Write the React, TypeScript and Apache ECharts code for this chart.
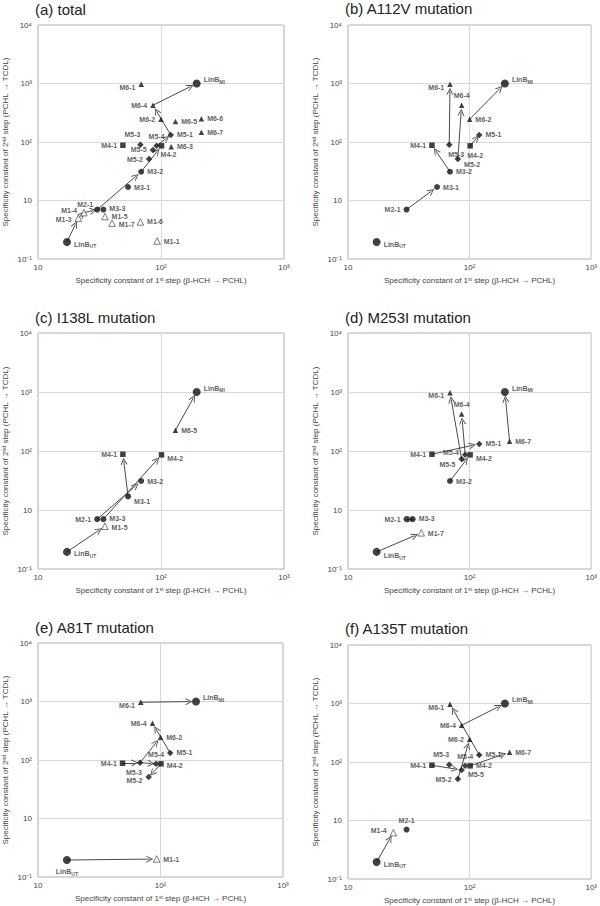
import React, { useEffect, useRef } from "react";
import * as echarts from "echarts";

// ---------- data ----------
const pointNames = ["LinB_UT", "LinB_MI", "M1-1", "M1-3", "M1-4", "M1-5", "M1-6", "M1-7", "M2-1", "M3-1", "M3-2", "M3-3", "M4-1", "M4-2", "M5-1", "M5-2", "M5-3", "M5-4", "M5-5", "M6-1", "M6-2", "M6-3", "M6-4", "M6-5", "M6-6", "M6-7"];
// specificity constant of 1st step (beta-HCH -> PCHL)
const step1Values = [17.2, 195, 93, 21.3, 23.6, 35, 68, 40, 30.3, 54, 69, 34, 49, 101, 120, 80, 68, 92, 86, 69, 100, 121, 86, 131, 213, 213];
// specificity constant of 2nd step (PCHL -> TCDL)
const step2Values = [1.95, 1000, 2.03, 5.0, 6.2, 5.3, 4.3, 4.1, 7.0, 17, 31, 7.0, 88, 86, 132, 51, 90, 86, 73, 970, 245, 83, 425, 225, 250, 147];
const pointKinds = ["wt", "wt", "open", "open", "open", "open", "open", "open", "circle", "circle", "circle", "circle", "square", "square", "diamond", "diamond", "diamond", "diamond", "diamond", "triangle", "triangle", "triangle", "triangle", "triangle", "triangle", "triangle"];

const panelTitles = ["(a) total", "(b) A112V mutation", "(c) I138L mutation", "(d) M253I mutation", "(e) A81T mutation", "(f) A135T mutation"];

const membersA = pointNames;
const membersB = ["LinB_UT", "LinB_MI", "M2-1", "M3-1", "M3-2", "M4-1", "M4-2", "M5-1", "M5-2", "M5-3", "M6-1", "M6-2", "M6-4"];
const membersC = ["LinB_UT", "LinB_MI", "M1-5", "M2-1", "M3-1", "M3-2", "M3-3", "M4-1", "M4-2", "M6-5"];
const membersD = ["LinB_UT", "LinB_MI", "M1-7", "M2-1", "M3-2", "M3-3", "M4-1", "M4-2", "M5-1", "M5-4", "M5-5", "M6-1", "M6-4", "M6-7"];
const membersE = ["LinB_UT", "LinB_MI", "M1-1", "M4-1", "M4-2", "M5-1", "M5-2", "M5-3", "M5-4", "M6-1", "M6-2", "M6-4"];
const membersF = ["LinB_UT", "LinB_MI", "M1-4", "M2-1", "M4-1", "M4-2", "M5-1", "M5-2", "M5-3", "M5-4", "M5-5", "M6-1", "M6-2", "M6-4", "M6-7"];
const panelMembers = [membersA, membersB, membersC, membersD, membersE, membersF];

const arrowsA = [["LinB_UT", "M1-3"], ["M1-3", "M1-4"], ["M1-4", "M2-1"], ["M2-1", "M3-2"], ["M3-2", "M4-2"], ["M5-4", "M5-1"], ["M5-1", "M6-4"], ["M6-4", "LinB_MI"]];
const arrowsB = [["M2-1", "M3-1"], ["M3-2", "M4-1"], ["M5-3", "M6-1"], ["M5-2", "M6-4"], ["M4-2", "M5-1"], ["M6-2", "LinB_MI"]];
const arrowsC = [["LinB_UT", "M1-5"], ["M2-1", "M3-2"], ["M3-3", "M4-2"], ["M3-1", "M4-1"], ["M6-5", "LinB_MI"]];
const arrowsD = [["LinB_UT", "M1-7"], ["M2-1", "M3-3"], ["M4-1", "M5-1"], ["M3-2", "M4-2"], ["M5-5", "M6-1"], ["M5-4", "M6-4"], ["M6-7", "LinB_MI"]];
const arrowsE = [["LinB_UT", "M1-1"], ["M6-1", "LinB_MI"], ["M4-1", "M5-3"], ["M5-3", "M5-4"], ["M5-3", "M6-2"], ["M5-1", "M6-4"], ["M4-2", "M5-2"]];
const arrowsF = [["LinB_UT", "M1-4"], ["M4-1", "M5-5"], ["M5-2", "M6-2"], ["M4-2", "M6-7"], ["M5-1", "M6-1"], ["M6-4", "LinB_MI"]];
const panelArrows = [arrowsA, arrowsB, arrowsC, arrowsD, arrowsE, arrowsF];

const xTickValues = [10, 100, 1000];
const xTickTexts = ["10", "10²", "10³"];
const yTickValues = [1, 10, 100, 1000, 10000];
const yTickTexts = ["10⁻¹", "10", "10²", "10³", "10⁴"];

// ---------- layout / style ----------
const gridBoxes = [
  { left: 38, top: 25, width: 246, height: 234 },
  { left: 348, top: 25, width: 246, height: 234 },
  { left: 38, top: 333, width: 246, height: 236 },
  { left: 348, top: 333, width: 245, height: 236 },
  { left: 37, top: 643, width: 246, height: 234 },
  { left: 348, top: 645, width: 245, height: 234 },
];
const titlePositions = [[35, 9], [345, 8], [35, 317], [345, 317], [35, 627], [345, 628]];

type LP = { p: string; o?: number[] };
const defaultLabel: Record<string, LP> = {
  "LinB_UT": { p: "right", o: [0, 2] },
  "LinB_MI": { p: "right", o: [0, -4] },
  "M1-1": { p: "right" }, "M1-3": { p: "left", o: [0, 1] }, "M1-4": { p: "left", o: [0, -2] },
  "M1-5": { p: "right", o: [0, 0] }, "M1-6": { p: "right" }, "M1-7": { p: "right", o: [0, 1] },
  "M2-1": { p: "left", o: [2, -5] }, "M3-1": { p: "right" }, "M3-2": { p: "right" }, "M3-3": { p: "right", o: [0, -1] },
  "M4-1": { p: "left" }, "M4-2": { p: "bottom", o: [7, -1] },
  "M5-1": { p: "right" }, "M5-2": { p: "left" }, "M5-3": { p: "top", o: [-8, 0] },
  "M5-4": { p: "top" }, "M5-5": { p: "left" },
  "M6-1": { p: "left", o: [0, 3] }, "M6-2": { p: "left" }, "M6-3": { p: "right" }, "M6-4": { p: "left" },
  "M6-5": { p: "right" }, "M6-6": { p: "right" }, "M6-7": { p: "right" },
};
const panelLabelOverrides: Record<string, LP>[] = [
  {},
  { "M2-1": { p: "left" }, "M5-3": { p: "bottom", o: [7, 0] }, "M5-2": { p: "right", o: [0, 5] }, "M4-2": { p: "bottom", o: [5, 0] }, "M6-4": { p: "top" }, "M6-2": { p: "right" } },
  { "M2-1": { p: "left" }, "M3-1": { p: "right", o: [0, 5] }, "M4-2": { p: "right", o: [0, 4] }, "M1-5": { p: "right", o: [0, 1] } },
  { "M2-1": { p: "left" }, "LinB_UT": { p: "right", o: [0, 4] }, "M5-4": { p: "left", o: [0, -2] }, "M5-5": { p: "left", o: [0, 5] }, "M6-4": { p: "top" }, "M4-2": { p: "right", o: [0, 4] } },
  { "LinB_UT": { p: "bottom" }, "M6-2": { p: "right" }, "M5-3": { p: "bottom", o: [-6, 0] }, "M4-2": { p: "right", o: [0, 2] }, "M5-2": { p: "left", o: [0, 3] } },
  { "M2-1": { p: "top" }, "M5-5": { p: "right", o: [0, 5] }, "M4-2": { p: "right" } },
];

const FONT = "Arial, 'Liberation Sans', sans-serif";
const chevron = "path://M5,0 L10,10 L8.6,10 L5,2.8 L1.4,10 L0,10 Z";

function tickText(v: number, values: number[], texts: string[]) {
  for (let i = 0; i < values.length; i++) {
    if (Math.abs(Math.log10(v) - Math.log10(values[i])) < 0.01) return texts[i];
  }
  return "";
}

function markerFor(kind: string) {
  switch (kind) {
    case "wt": return { symbol: "circle", symbolSize: 8, itemStyle: { color: "#111" } };
    case "open": return { symbol: "triangle", symbolSize: 6.5, itemStyle: { color: "#fff", borderColor: "#333", borderWidth: 0.8 } };
    case "circle": return { symbol: "circle", symbolSize: 6, itemStyle: { color: "#111" } };
    case "square": return { symbol: "rect", symbolSize: 5.5, itemStyle: { color: "#111" } };
    case "diamond": return { symbol: "diamond", symbolSize: 6.5, itemStyle: { color: "#111" } };
    default: return { symbol: "triangle", symbolSize: 5.5, itemStyle: { color: "#111" } };
  }
}

export default function App() {
  const ref = useRef<HTMLDivElement>(null);
  useEffect(() => {
    document.body.style.margin = "0";
    if (!ref.current) return;
    const chart = echarts.init(ref.current, undefined, { renderer: "svg" });
    const idx = (n: string) => pointNames.indexOf(n);

    const grids: any[] = [];
    const xAxes: any[] = [];
    const yAxes: any[] = [];
    const series: any[] = [];
    const graphics: any[] = [];

    gridBoxes.forEach((g, i) => {
      grids.push({ ...g, show: true, borderColor: "#adadad", borderWidth: 1, backgroundColor: "transparent" });
      xAxes.push({
        gridIndex: i, type: "log", logBase: 10, min: 10, max: 1000,
        name: "Specificity constant of 1{sup|st} step (β-HCH → PCHL)",
        nameLocation: "middle", nameGap: 17,
        nameTextStyle: { fontSize: 8, color: "#444", fontFamily: FONT, rich: { sup: { fontSize: 5, padding: [0, 0, 4, 0], color: "#444" } } },
        axisLine: { show: false }, axisTick: { show: false },
        axisLabel: { fontSize: 8, color: "#444", fontFamily: FONT, margin: 4, formatter: (v: number) => tickText(v, xTickValues, xTickTexts) },
        splitLine: { show: true, lineStyle: { color: "#d8d8d8", width: 1 } },
        minorTick: { show: false }, minorSplitLine: { show: false },
      });
      yAxes.push({
        gridIndex: i, type: "log", logBase: 10, min: 1, max: 10000,
        name: "Specificity constant of 2{sup|nd} step (PCHL → TCDL)",
        nameLocation: "middle", nameGap: 28, nameRotate: 90,
        nameTextStyle: { fontSize: 8, color: "#444", fontFamily: FONT, rich: { sup: { fontSize: 5, padding: [0, 0, 4, 0], color: "#444" } } },
        axisLine: { show: false }, axisTick: { show: false },
        axisLabel: { fontSize: 8, color: "#444", fontFamily: FONT, margin: 6, formatter: (v: number) => tickText(v, yTickValues, yTickTexts) },
        splitLine: { show: true, lineStyle: { color: "#d8d8d8", width: 1 } },
      });

      const pxPerDecX = g.width / 2;
      const pxPerDecY = g.height / 4;
      const lineData = panelArrows[i].map(([a, b]) => {
        const x1 = step1Values[idx(a)], y1 = step2Values[idx(a)];
        const x2 = step1Values[idx(b)], y2 = step2Values[idx(b)];
        const lx1 = Math.log10(x1), ly1 = Math.log10(y1), lx2 = Math.log10(x2), ly2 = Math.log10(y2);
        const dx = (lx2 - lx1) * pxPerDecX, dy = (ly2 - ly1) * pxPerDecY;
        const L = Math.sqrt(dx * dx + dy * dy);
        const cut = Math.min(7, L * 0.3);
        const t = L > 0 ? 1 - cut / L : 1;
        return {
          coords: [
            [x1, y1],
            [Math.pow(10, lx1 + t * (lx2 - lx1)), Math.pow(10, ly1 + t * (ly2 - ly1))],
          ],
        };
      });
      series.push({
        type: "lines", coordinateSystem: "cartesian2d", xAxisIndex: i, yAxisIndex: i,
        symbol: ["none", chevron], symbolSize: 7, silent: true, z: 2,
        lineStyle: { color: "#4a4a4a", width: 1, opacity: 1, curveness: 0 },
        data: lineData,
      });

      const overrides = panelLabelOverrides[i];
      const scatterData = panelMembers[i].map((n) => {
        const k = idx(n);
        const lp = overrides[n] || defaultLabel[n];
        const m = markerFor(pointKinds[k]);
        const isWt = n.startsWith("LinB_");
        return {
          name: n,
          value: [step1Values[k], step2Values[k]],
          ...m,
          label: {
            show: true,
            position: lp.p,
            offset: lp.o || [0, 0],
            distance: 3,
            formatter: isWt ? "LinB{sub|" + n.slice(5) + "}" : n,
          },
        };
      });
      series.push({
        type: "scatter", xAxisIndex: i, yAxisIndex: i, z: 3,
        data: scatterData,
        label: {
          show: true, fontSize: 7, fontWeight: "bold", color: "#333", fontFamily: FONT,
          rich: { sub: { fontSize: 5, fontWeight: "bold", color: "#333", padding: [4, 0, 0, 0] } },
        },
      });

      graphics.push({
        type: "text", x: titlePositions[i][0], y: titlePositions[i][1],
        style: { text: panelTitles[i], fontSize: 15, fill: "#222", fontFamily: FONT, textVerticalAlign: "middle" },
      });
    });

    chart.setOption({
      animation: false,
      backgroundColor: "#fff",
      grid: grids,
      xAxis: xAxes,
      yAxis: yAxes,
      series,
      graphic: graphics,
    });
    return () => chart.dispose();
  }, []);
  return <div ref={ref} style={{ width: 600, height: 906 }} />;
}
